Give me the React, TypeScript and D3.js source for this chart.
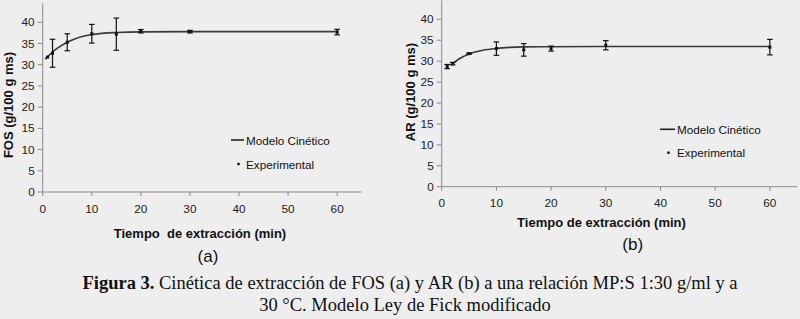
import React from "react";
import * as d3 from "d3";

// ---- Data ----
const timesA = [1, 2, 5, 10, 15, 20, 30, 60];
const fosMean = [31.8, 32.7, 35.3, 37.3, 37.2, 37.9, 37.8, 37.7];
const fosErr = [0, 3.3, 2.0, 2.2, 3.8, 0.4, 0.3, 0.65];
const modelTimesA = [0.5, 1, 2, 3, 5, 7.5, 10, 12.5, 15, 20, 30, 45, 60];
const fosModel = [31.3, 31.9, 33.0, 33.9, 35.3, 36.5, 37.1, 37.45, 37.6, 37.75, 37.8, 37.8, 37.8];

const timesB = [1, 2, 5, 10, 15, 20, 30, 60];
const arMean = [28.7, 29.4, 31.8, 33.0, 32.7, 33.0, 33.8, 33.35];
const arErr = [0.5, 0.3, 0.15, 1.6, 1.5, 0.6, 1.1, 1.85];
const modelTimesB = [2, 3, 5, 7.5, 10, 12.5, 15, 20, 30, 45, 60];
const arModel = [29.4, 30.4, 31.7, 32.6, 33.05, 33.3, 33.4, 33.45, 33.5, 33.5, 33.5];

const yTicks = [0, 5, 10, 15, 20, 25, 30, 35, 40];
const xTicks = [0, 10, 20, 30, 40, 50, 60];

const legendLine = "Modelo Cinético";
const legendDot = "Experimental";
const xTitleA = "Tiempo  de extracción (min)";
const xTitleB = "Tiempo de extracción (min)";
const yTitleA = "FOS (g/100 g ms)";
const yTitleB = "AR (g/100 g ms)";

const SANS = "'Liberation Sans', Arial, sans-serif";
const SERIF = "'Liberation Serif', 'Times New Roman', serif";

type PanelProps = {
  x0: number; x1: number; y0: number; y40: number;
  times: number[]; mean: number[]; err: number[];
  mTimes: number[]; model: number[];
  xTitle: string; xTitleX: number; xTitleY: number;
  yTitle: string; yTitleX: number; yTitleY: number;
  label: string; labelX: number; labelY: number;
  tickLabelY: number;
  legX: number; legLineY: number; legDotY: number; legTextX: number;
};

function Panel(p: PanelProps) {
  const x = d3.scaleLinear().domain([0, 65]).range([p.x0, p.x1]);
  const y = d3.scaleLinear().domain([0, 40]).range([p.y0, p.y40]);
  const line = d3
    .line<number>()
    .x((_, i) => x(p.mTimes[i]))
    .y((d) => y(d))
    .curve(d3.curveMonotoneX);
  const axisColor = "#8a8a8a";
  return (
    <g>
      {/* axes */}
      <line x1={x(0)} x2={x(0)} y1={y(0)} y2={y(44.5)} stroke={axisColor} strokeWidth={1} />
      <line x1={x(0)} x2={x(65)} y1={y(0)} y2={y(0)} stroke={axisColor} strokeWidth={1} />
      {yTicks.map((t) => (
        <g key={"y" + t}>
          <line x1={x(0) - 5} x2={x(0)} y1={y(t)} y2={y(t)} stroke={axisColor} />
          <text
            x={x(0) - 8}
            y={y(t)}
            textAnchor="end"
            dominantBaseline="central"
            fontFamily={SANS}
            fontSize={11.8}
            fill="#222"
          >
            {t}
          </text>
        </g>
      ))}
      {xTicks.map((t) => (
        <g key={"x" + t}>
          <line x1={x(t)} x2={x(t)} y1={y(0)} y2={y(0) + 4} stroke={axisColor} />
          <text
            x={x(t)}
            y={p.tickLabelY}
            textAnchor="middle"
            dominantBaseline="central"
            fontFamily={SANS}
            fontSize={11.8}
            fill="#222"
          >
            {t}
          </text>
        </g>
      ))}
      {/* model curve */}
      <path d={line(p.model) || ""} fill="none" stroke="#3a3a3a" strokeWidth={1.6} />
      {/* error bars + points */}
      {p.times.map((t, i) => {
        const cx = x(t);
        const top = y(p.mean[i] + p.err[i]);
        const bot = y(p.mean[i] - p.err[i]);
        return (
          <g key={"p" + i}>
            {p.err[i] > 0 && (
              <g stroke="#111" strokeWidth={1.2}>
                <line x1={cx} x2={cx} y1={top} y2={bot} />
                <line x1={cx - 2.8} x2={cx + 2.8} y1={top} y2={top} />
                <line x1={cx - 2.8} x2={cx + 2.8} y1={bot} y2={bot} />
              </g>
            )}
            <rect x={cx - 1.5} y={y(p.mean[i]) - 1.5} width={3} height={3} fill="#111" />
          </g>
        );
      })}
      {/* legend */}
      <line x1={p.legX} x2={p.legTextX - 2} y1={p.legLineY} y2={p.legLineY} stroke="#222" strokeWidth={1.6} />
      <text x={p.legTextX} y={p.legLineY} dominantBaseline="central" fontFamily={SANS} fontSize={11.7} fill="#111">
        {legendLine}
      </text>
      <rect x={(p.legX + p.legTextX) / 2 - 1.2} y={p.legDotY - 1.2} width={2.4} height={2.4} fill="#111" />
      <text x={p.legTextX} y={p.legDotY} dominantBaseline="central" fontFamily={SANS} fontSize={11.7} fill="#111">
        {legendDot}
      </text>
      {/* titles */}
      <text
        x={p.xTitleX}
        y={p.xTitleY}
        textAnchor="middle"
        dominantBaseline="central"
        fontFamily={SANS}
        fontSize={13}
        fontWeight="bold"
        fill="#111"
        style={{ whiteSpace: "pre" }}
      >
        {p.xTitle}
      </text>
      <text
        transform={`translate(${p.yTitleX},${p.yTitleY}) rotate(-90)`}
        textAnchor="middle"
        dominantBaseline="central"
        fontFamily={SANS}
        fontSize={13}
        fontWeight="bold"
        fill="#111"
      >
        {p.yTitle}
      </text>
      <text
        x={p.labelX}
        y={p.labelY}
        textAnchor="middle"
        dominantBaseline="central"
        fontFamily={SANS}
        fontSize={17}
        fill="#111"
      >
        {p.label}
      </text>
    </g>
  );
}

export default function App() {
  return (
    <svg
      width={800}
      height={319}
      viewBox="0 0 800 319"
      style={{ position: "absolute", left: 0, top: 0, display: "block" }}
    >
      <rect x={0} y={0} width={800} height={319} fill="#eeeeee" />
      <Panel
        x0={42.7} x1={361.7} y0={192} y40={22.3}
        times={timesA} mean={fosMean} err={fosErr}
        mTimes={modelTimesA} model={fosModel}
        xTitle={xTitleA} xTitleX={200} xTitleY={233}
        yTitle={yTitleA} yTitleX={8.5} yTitleY={105}
        label="(a)" labelX={208} labelY={256}
        tickLabelY={209}
        legX={231} legLineY={140} legDotY={164} legTextX={246}
      />
      <Panel
        x0={441.7} x1={797.2} y0={186.7} y40={19.3}
        times={timesB} mean={arMean} err={arErr}
        mTimes={modelTimesB} model={arModel}
        xTitle={xTitleB} xTitleX={601.5} xTitleY={222}
        yTitle={yTitleB} yTitleX={410} yTitleY={92}
        label="(b)" labelX={632.7} labelY={244}
        tickLabelY={202.7}
        legX={660} legLineY={129.3} legDotY={152.7} legTextX={677}
      />
      <text x={410} y={289} textAnchor="middle" fontFamily={SERIF} fontSize={18.5} fill="#111">
        <tspan fontWeight="bold">Figura 3.</tspan>
        <tspan> Cinética de extracción de FOS (a) y AR (b) a una relación MP:S 1:30 g/ml y a</tspan>
      </text>
      <text x={405} y={311} textAnchor="middle" fontFamily={SERIF} fontSize={18.5} fill="#111">
        30 °C. Modelo Ley de Fick modificado
      </text>
    </svg>
  );
}
